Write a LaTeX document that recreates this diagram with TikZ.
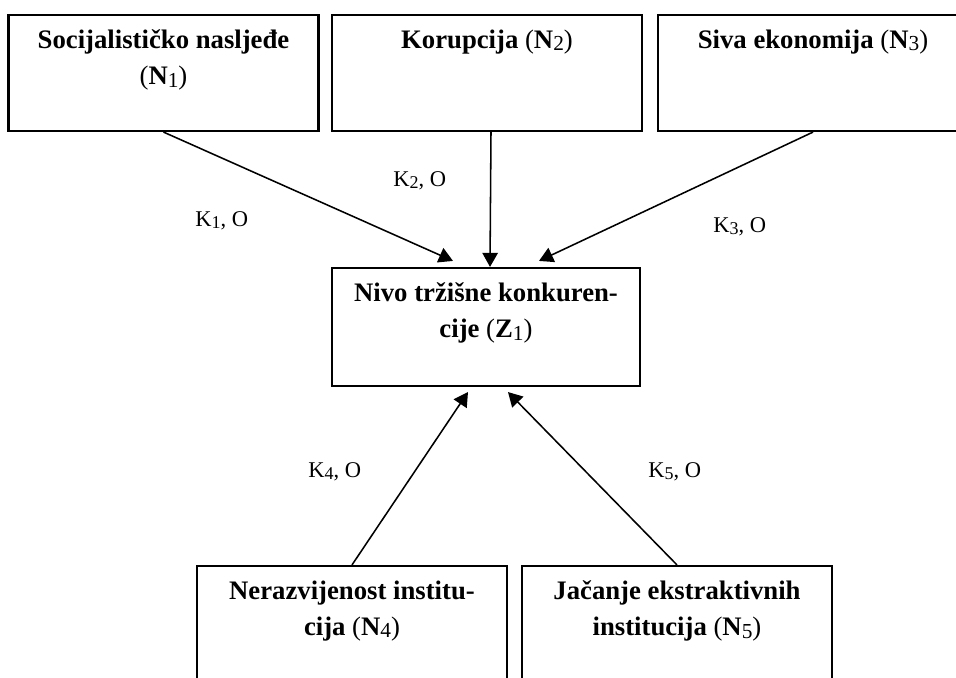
\documentclass[tikz,border=0pt]{standalone}
\usepackage{fontspec}
\setmainfont{Liberation Serif}
\usepackage{graphicx}
\usepackage{tikz}
\usetikzlibrary{arrows.meta}

\newcommand{\lowdig}[1]{\raisebox{-0.1em}{\normalfont\scalebox{0.8}{#1}}}
\newcommand{\ozn}[2]{\textmd{(}\textbf{#1}\lowdig{#2}\textmd{)}}

\begin{document}
\begin{tikzpicture}[x=0.025cm, y=-0.025cm]
    \tikzstyle{myBox}=[draw, line width=1.5pt, minimum width=7.75cm, minimum height=2.9cm, inner sep=0pt]
    \tikzstyle{myTxt}=[anchor=north, yshift=-11pt, align=center, inner sep=0pt, font=\fontsize{19}{25.5}\selectfont\bfseries]
    \tikzstyle{myArr}=[line width=1.1pt, -{Triangle[length=10pt, width=11pt]}]
    \tikzstyle{myLab}=[anchor=base west, inner sep=0pt, font=\fontsize{16}{19}\selectfont]

    \path[use as bounding box, clip] (0,0) rectangle (956,678);

    \node[myBox, label={[myTxt, name=t1]north:Socijalističko nasljeđe\\\ozn{N}{1}}] (n1) at (163.5,73) {};
    \node[myBox, label={[myTxt, name=t2]north:Korupcija \ozn{N}{2}}] (n2) at (487,73) {};
    \node[myBox, label={[myTxt, name=t3]north:Siva ekonomija \ozn{N}{3}}] (n3) at (813,73) {};
    \node[myBox, minimum width=7.7cm, minimum height=2.95cm,
          label={[myTxt, name=tz]north:Nivo tržišne konkuren-\\cije \ozn{Z}{1}}] (z1) at (486,327) {};
    \node[myBox, label={[myTxt, name=t4]north:Nerazvijenost institu-\\cija \ozn{N}{4}}] (n4) at (352,624) {};
    \node[myBox, label={[myTxt, name=t5]north:Jačanje ekstraktivnih\\institucija \ozn{N}{5}}] (n5) at (677,624) {};

    \draw[myArr] (n1.south) -- ([shift={(-33,-6)}]z1.north);
    \draw[myArr] ([shift={(4,0)}]n2.south) -- ([shift={(4,0)}]z1.north);
    \draw[myArr] (n3.south) -- ([shift={(53,-6)}]z1.north);
    \draw[myArr] (n4.north) -- ([shift={(-18,5)}]z1.south);
    \draw[myArr] (n5.north) -- ([shift={(22,5)}]z1.south);

    \node[myLab] (k1) at (195,226) {K\lowdig{1}, O};
    \node[myLab] (k2) at (393,186) {K\lowdig{2}, O};
    \node[myLab] (k3) at (713,232) {K\lowdig{3}, O};
    \node[myLab] (k4) at (308,477) {K\lowdig{4}, O};
    \node[myLab] (k5) at (648,477) {K\lowdig{5}, O};
\end{tikzpicture}
\end{document}
